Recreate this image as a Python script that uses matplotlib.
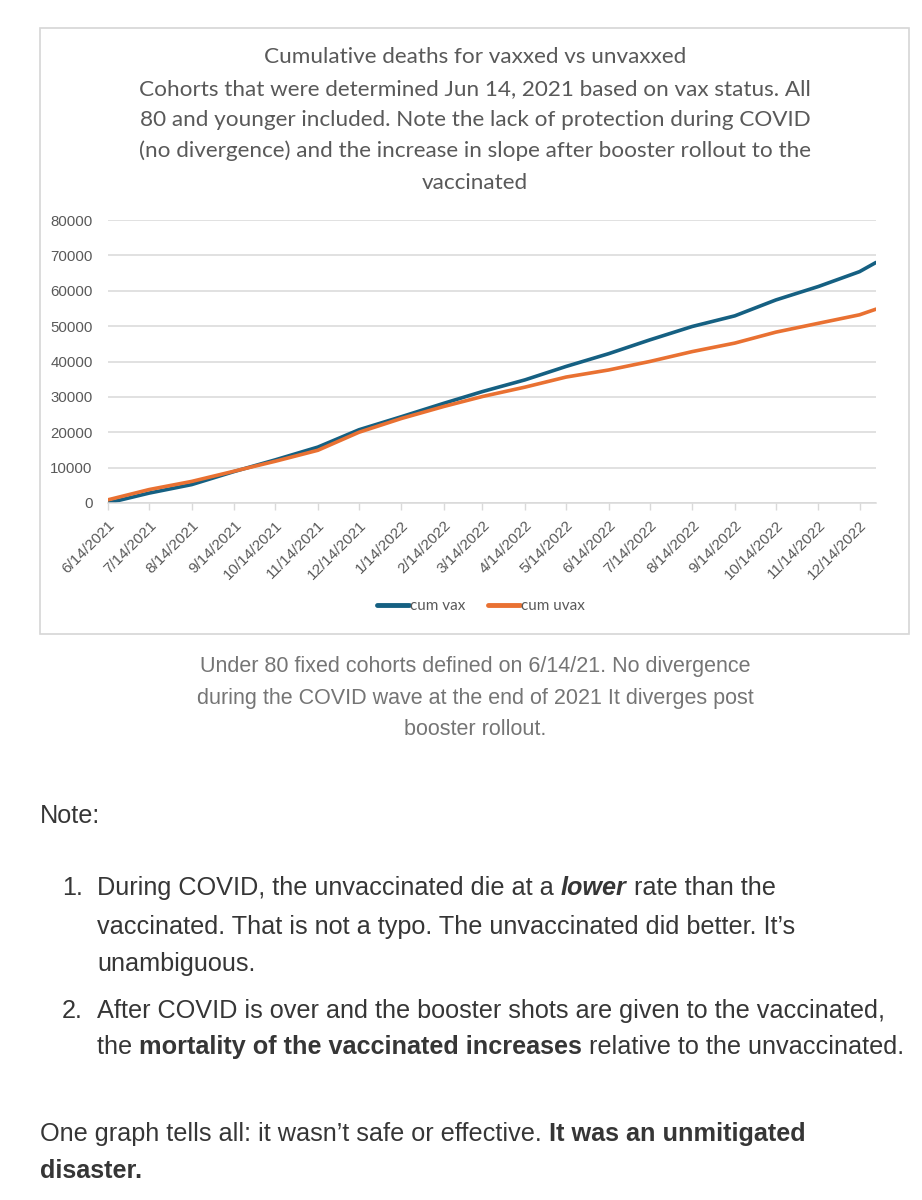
import matplotlib
matplotlib.use("Agg")
import matplotlib.pyplot as plt
import matplotlib.dates as mdates
import matplotlib.patches as patches
import numpy as np
import datetime as dt

# values (monthly, plus the last point)
dates = ["2021-06-14", "2021-07-14", "2021-08-14", "2021-09-14", "2021-10-14",
         "2021-11-14", "2021-12-14", "2022-01-14", "2022-02-14", "2022-03-14",
         "2022-04-14", "2022-05-14", "2022-06-14", "2022-07-14", "2022-08-14",
         "2022-09-14", "2022-10-14", "2022-11-14", "2022-12-14", "2022-12-26"]
cum_vax = [0, 2800, 5200, 8900, 12200, 15800, 20700, 24400, 28200, 31500,
           34800, 38600, 42200, 46100, 49900, 52900, 57400, 61200, 65400, 68000]
cum_uvax = [900, 3800, 6100, 9000, 11800, 14900, 20000, 23900, 27300, 30100,
            32750, 35600, 37600, 40000, 42800, 45200, 48300, 50800, 53200, 54800]

title_lines = ["Cumulative deaths for vaxxed vs unvaxxed",
               "Cohorts that were determined Jun 14, 2021 based on vax status. All",
               "80 and younger included. Note the lack of protection during COVID",
               "(no divergence) and the increase in slope after booster rollout to the",
               "vaccinated"]
caption_lines = ["Under 80 fixed cohorts defined on 6/14/21. No divergence",
                 "during the COVID wave at the end of 2021 It diverges post",
                 "booster rollout."]

W, H = 922, 1200
fig = plt.figure(figsize=(W / 100, H / 100), dpi=100)
fig.patch.set_facecolor("white")

def fx(px):
    return px / W

def fy(py):
    return 1 - py / H

# chart frame
fig.patches.append(patches.Rectangle((fx(40), fy(634)), fx(909) - fx(40), fy(28) - fy(634),
                                     transform=fig.transFigure, fill=False,
                                     edgecolor="#d6d6d6", lw=1.2))

VAX = "#156082"
UVAX = "#E97132"
GRAY = "#595959"

ax = fig.add_axes([fx(108), fy(503), fx(876) - fx(108), fy(220) - fy(503)])
x = [dt.datetime.strptime(d, "%Y-%m-%d") for d in dates]
ax.plot(x, cum_vax, color=VAX, lw=2.6, label="cum vax", solid_capstyle="round")
ax.plot(x, cum_uvax, color=UVAX, lw=2.6, label="cum uvax", solid_capstyle="round")

ax.set_ylim(0, 80000)
ax.set_yticks(range(0, 80001, 10000))
ax.set_xlim(x[0], x[-1])
ax.xaxis.set_major_locator(mdates.MonthLocator(bymonthday=14))
ax.xaxis.set_major_formatter(mdates.DateFormatter("%-m/%-d/%Y"))
ax.grid(axis="y", color="#d9d9d9", lw=1.1)
ax.set_axisbelow(True)
for s in ["top", "right", "left"]:
    ax.spines[s].set_visible(False)
ax.spines["bottom"].set_color("#d9d9d9")
ax.spines["bottom"].set_linewidth(1.1)
ax.tick_params(axis="y", length=0, pad=11, labelsize=10.8, labelcolor=GRAY)
ax.tick_params(axis="x", length=5, width=1, color="#d9d9d9", pad=6, labelsize=11, labelcolor=GRAY)
for lab in ax.get_yticklabels() + ax.get_xticklabels():
    lab.set_fontfamily("Liberation Sans")
for lab in ax.get_xticklabels():
    lab.set_rotation(45)
    lab.set_ha("right")
    lab.set_rotation_mode("anchor")

leg = fig.legend(loc="center", bbox_to_anchor=(fx(481), fy(606)), ncol=2, frameon=False,
                 handlelength=2.1, handletextpad=0.05, columnspacing=1.5,
                 prop={"family": "Lato", "size": 11})
for t in leg.get_texts():
    t.set_color(GRAY)
for h in leg.get_lines():
    h.set_linewidth(3.5)

# title
title_y = [57, 89, 120, 151, 183]
for line, yy in zip(title_lines, title_y):
    fig.text(fx(475), fy(yy), line, ha="center", va="center", fontsize=16.2,
             family="Lato", color=GRAY)

# caption
cap_y = [672, 704, 735]
for line, yy in zip(caption_lines, cap_y):
    fig.text(fx(475), fy(yy), line, ha="center", va="baseline", fontsize=15.5,
             family="Liberation Sans", color="#757575")

# body text, drawn piece by piece so bold / italic can be mixed
TXT = "#363636"
BODY = 18.2
renderer = fig.canvas.get_renderer()

def rich(px, py, pieces):
    xcur = fx(px)
    for txt, weight, style in pieces:
        t = fig.text(xcur, fy(py), txt, ha="left", va="baseline", fontsize=BODY,
                     family="Liberation Sans", weight=weight, style=style, color=TXT)
        bb = t.get_window_extent(renderer=renderer)
        xcur += bb.width / W

N = ("normal", "normal")
rich(40, 823, [("Note:",) + N])
rich(62, 895, [("1.",) + N])
rich(97, 895, [("During COVID, the unvaccinated die at a ",) + N,
               ("lower", "bold", "italic"),
               (" rate than the",) + N])
rich(97, 934, [("vaccinated. That is not a typo. The unvaccinated did better. It\u2019s",) + N])
rich(97, 971, [("unambiguous.",) + N])
rich(62, 1018, [("2.",) + N])
rich(97, 1018, [("After COVID is over and the booster shots are given to the vaccinated,",) + N])
rich(97, 1054, [("the ",) + N,
                ("mortality of the vaccinated increases", "bold", "normal"),
                (" relative to the unvaccinated.",) + N])
rich(40, 1141, [("One graph tells all: it wasn\u2019t safe or effective. ",) + N,
                ("It was an unmitigated", "bold", "normal")])
rich(40, 1178, [("disaster.", "bold", "normal")])

fig.savefig("out.png", dpi=100, facecolor="white")
